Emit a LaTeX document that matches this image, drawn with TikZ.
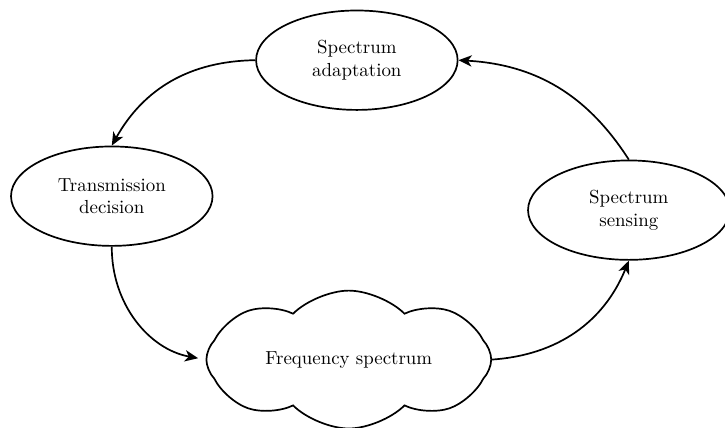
\documentclass[tikz,border=0pt]{standalone}
\usepackage{tikz}
\usetikzlibrary{arrows.meta, shapes.geometric, shapes.symbols, positioning}

\begin{document}
\begin{tikzpicture}[
    >={Stealth[length=7pt, width=6pt, inset=2pt]},
    phase/.style={ellipse, draw, line width=0.9pt, align=center, minimum width=3.75cm, minimum height=1.85cm},
    spectrum/.style={cloud, draw, line width=0.9pt, cloud puffs=8, cloud puff arc=90, aspect=2.4, minimum width=5.3cm, minimum height=1.85cm}]
    \useasboundingbox (0, 0) rectangle (13.49, -7.96);

    \node[phase] (adapt) at (6.64, -1.12) {Spectrum\\adaptation};
    \node[phase] (trans) at (2.08, -3.65) {Transmission\\decision};
    \node[phase] (sense) at (11.70, -3.91) {Spectrum\\sensing};
    \node[spectrum] (freq) at (6.49, -6.69) {Frequency spectrum};

    \draw[line width=0.9pt]
    (adapt.west) edge[->, bend right=30] (trans.north)
    (trans.south) edge[->, bend right=40, shorten >=4pt] (freq.west)
    (freq.east) edge[->, bend right=32] (sense.south)
    (sense.north) edge[->, bend right=27] (adapt.east);
\end{tikzpicture}
\end{document}
